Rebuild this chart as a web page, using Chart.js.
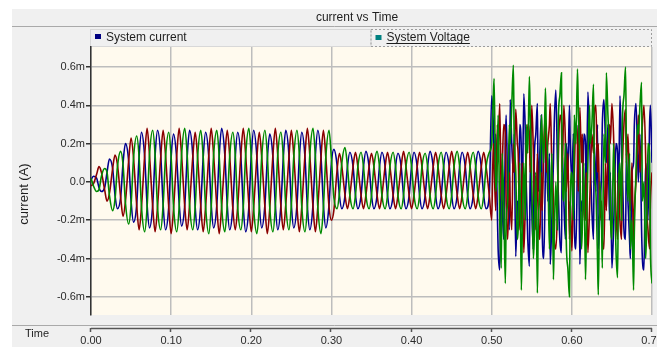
<!DOCTYPE html>
<html>
<head>
<meta charset="utf-8">
<script src="https://cdn.jsdelivr.net/npm/chart.js@4.4.1/dist/chart.umd.min.js"></script>
<style>
  html, body { margin: 0; padding: 0; background: #fff; }
  canvas { display: block; }
</style>
</head>
<body>
<canvas id="myChart" width="657" height="347"></canvas>
<script>
// time axis (s), one row = one 20 ms cycle (denser samples after the 0.50 s event)
const times = [
  0,0.003,0.007,0.01,0.013,0.017,
  0.02,0.023,0.027,0.03,0.033,0.037,
  0.04,0.043,0.047,0.05,0.053,0.057,
  0.06,0.063,0.067,0.07,0.073,0.077,
  0.08,0.083,0.087,0.09,0.093,0.097,
  0.1,0.103,0.107,0.11,0.113,0.117,
  0.12,0.123,0.127,0.13,0.133,0.137,
  0.14,0.143,0.147,0.15,0.153,0.157,
  0.16,0.163,0.167,0.17,0.173,0.177,
  0.18,0.183,0.187,0.19,0.193,0.197,
  0.2,0.203,0.207,0.21,0.213,0.217,
  0.22,0.223,0.227,0.23,0.233,0.237,
  0.24,0.243,0.247,0.25,0.253,0.257,
  0.26,0.263,0.267,0.27,0.273,0.277,
  0.28,0.283,0.287,0.29,0.293,0.297,
  0.3,0.303,0.307,0.31,0.313,0.317,
  0.32,0.323,0.327,0.33,0.333,0.337,
  0.34,0.343,0.347,0.35,0.353,0.357,
  0.36,0.363,0.367,0.37,0.373,0.377,
  0.38,0.383,0.387,0.39,0.393,0.397,
  0.4,0.403,0.407,0.41,0.413,0.417,
  0.42,0.423,0.427,0.43,0.433,0.437,
  0.44,0.443,0.447,0.45,0.453,0.457,
  0.46,0.463,0.467,0.47,0.473,0.477,
  0.48,0.483,0.487,0.49,0.493,0.497,
  0.5,0.502,0.503,0.505,0.507,0.508,0.51,0.512,0.513,0.515,0.517,0.518,
  0.52,0.522,0.523,0.525,0.527,0.528,0.53,0.532,0.533,0.535,0.537,0.538,
  0.54,0.542,0.543,0.545,0.547,0.548,0.55,0.552,0.553,0.555,0.557,0.558,
  0.56,0.562,0.563,0.565,0.567,0.568,0.57,0.572,0.573,0.575,0.577,0.578,
  0.58,0.582,0.583,0.585,0.587,0.588,0.59,0.592,0.593,0.595,0.597,0.598,
  0.6,0.602,0.603,0.605,0.607,0.608,0.61,0.612,0.613,0.615,0.617,0.618,
  0.62,0.622,0.623,0.625,0.627,0.628,0.63,0.632,0.633,0.635,0.637,0.638,
  0.64,0.642,0.643,0.645,0.647,0.648,0.65,0.652,0.653,0.655,0.657,0.658,
  0.66,0.662,0.663,0.665,0.667,0.668,0.67,0.672,0.673,0.675,0.677,0.678,
  0.68,0.682,0.683,0.685,0.687,0.688,0.69,0.692,0.693,0.695,0.697,0.698,
  0.7
];

// current in mA, phase drawn in navy
const phaseBlue = [
  0.01,0.03,0.02,-0.03,-0.05,-0.03,
  0.05,0.12,0.07,-0.07,-0.14,-0.08,
  0.10,0.20,0.11,-0.10,-0.21,-0.12,
  0.13,0.26,0.13,-0.12,-0.24,-0.12,
  0.14,0.27,0.14,-0.12,-0.25,-0.13,
  0.13,0.25,0.12,-0.11,-0.23,-0.12,
  0.13,0.27,0.14,-0.13,-0.25,-0.12,
  0.13,0.26,0.13,-0.12,-0.24,-0.12,
  0.14,0.28,0.14,-0.12,-0.25,-0.13,
  0.13,0.26,0.13,-0.13,-0.26,-0.13,
  0.14,0.27,0.13,-0.12,-0.24,-0.12,
  0.12,0.25,0.13,-0.12,-0.25,-0.12,
  0.13,0.27,0.14,-0.12,-0.24,-0.12,
  0.13,0.26,0.13,-0.13,-0.25,-0.12,
  0.14,0.27,0.13,-0.12,-0.24,-0.12,
  0.10,0.17,0.09,-0.07,-0.14,-0.07,
  0.08,0.155,0.08,-0.07,-0.14,-0.07,
  0.08,0.16,0.08,-0.07,-0.14,-0.07,
  0.08,0.155,0.08,-0.07,-0.14,-0.07,
  0.08,0.15,0.08,-0.07,-0.14,-0.07,
  0.08,0.155,0.08,-0.07,-0.14,-0.07,
  0.08,0.16,0.08,-0.07,-0.14,-0.07,
  0.08,0.155,0.08,-0.07,-0.14,-0.07,
  0.08,0.155,0.08,-0.07,-0.14,-0.07,
  0.08,0.16,0.08,-0.07,-0.14,-0.07,
  0.45,0.30,0.10,0.25,-0.15,-0.35,-0.46,0.05,-0.10,-0.30,0.20,0.35,
  -0.05,-0.25,0.43,0.20,0.05,0.25,-0.39,-0.10,-0.20,0.30,0.15,-0.20,
  0.46,0.25,0.00,-0.30,-0.44,0.10,-0.15,-0.35,0.10,0.25,0.41,-0.05,
  0.15,0.35,-0.25,-0.40,0.05,0.25,-0.10,0.15,-0.43,-0.20,0.10,0.30,
  0.48,0.10,-0.05,-0.30,-0.37,0.15,-0.10,-0.30,0.20,0.05,0.40,0.20,
  0.00,0.25,-0.20,-0.35,0.10,0.30,-0.43,-0.10,-0.15,0.25,0.20,-0.15,
  0.47,0.25,0.10,-0.15,-0.30,0.20,-0.05,0.30,-0.35,-0.15,0.05,0.30,
  0.43,0.20,0.10,0.30,-0.20,0.05,-0.45,-0.25,-0.10,0.20,0.15,-0.20,
  0.45,0.15,0.05,-0.25,-0.30,0.15,-0.10,-0.30,-0.40,0.05,0.10,0.30,
  0.41,0.15,0.00,0.25,-0.25,-0.40,-0.46,0.10,0.05,-0.20,0.30,0.40,
  0.10
];

// phase drawn in dark red
const phaseRed = [
  -0.02,-0.01,0.04,0.08,0.05,-0.04,
  -0.10,-0.06,0.07,0.14,0.09,-0.08,
  -0.18,-0.10,0.11,0.23,0.13,-0.12,
  -0.25,-0.13,0.14,0.28,0.14,-0.13,
  -0.26,-0.13,0.13,0.27,0.14,-0.13,
  -0.27,-0.14,0.14,0.28,0.14,-0.13,
  -0.25,-0.12,0.13,0.26,0.13,-0.13,
  -0.26,-0.13,0.14,0.28,0.14,-0.13,
  -0.27,-0.13,0.13,0.27,0.14,-0.14,
  -0.25,-0.13,0.14,0.28,0.14,-0.12,
  -0.26,-0.13,0.13,0.26,0.13,-0.13,
  -0.27,-0.14,0.14,0.28,0.14,-0.13,
  -0.25,-0.12,0.13,0.27,0.14,-0.13,
  -0.26,-0.13,0.14,0.28,0.14,-0.13,
  -0.26,-0.13,0.13,0.27,0.13,-0.13,
  -0.20,-0.15,0.06,0.15,0.08,-0.07,
  -0.14,-0.07,0.08,0.155,0.08,-0.07,
  -0.14,-0.07,0.08,0.15,0.08,-0.07,
  -0.14,-0.07,0.08,0.155,0.08,-0.07,
  -0.14,-0.07,0.08,0.16,0.08,-0.07,
  -0.14,-0.07,0.08,0.155,0.08,-0.07,
  -0.14,-0.07,0.08,0.155,0.08,-0.07,
  -0.14,-0.07,0.08,0.16,0.08,-0.07,
  -0.14,-0.07,0.08,0.155,0.08,-0.07,
  -0.14,-0.07,0.08,0.155,0.08,-0.07,
  -0.20,0.20,0.10,-0.15,0.30,0.15,0.41,-0.10,0.05,0.30,0.25,-0.10,
  -0.30,0.05,-0.10,-0.25,0.20,0.05,0.38,0.20,0.15,-0.25,-0.20,0.10,
  -0.37,-0.10,0.10,0.30,0.25,0.05,0.40,0.15,-0.05,-0.25,0.15,-0.15,
  -0.30,0.05,-0.15,0.20,0.35,0.05,0.20,0.30,0.41,0.10,-0.10,-0.30,
  -0.35,-0.15,0.10,0.35,0.30,0.05,0.40,0.20,-0.05,0.15,-0.30,-0.10,
  -0.36,-0.05,0.05,0.30,0.20,-0.05,0.39,0.10,0.25,-0.15,-0.20,0.05,
  -0.37,-0.15,0.00,0.25,0.15,0.35,0.40,0.05,0.20,-0.20,-0.10,-0.30,
  -0.35,0.10,-0.15,0.15,0.30,0.20,0.41,0.25,0.10,-0.15,-0.30,0.05,
  -0.20,-0.30,0.05,0.30,0.38,0.10,0.25,-0.05,-0.15,0.10,-0.37,-0.15,
  0.00,0.20,0.35,0.05,0.20,0.30,0.40,0.15,-0.10,-0.25,-0.35,-0.10,
  0.05
];

// phase drawn in green
const phaseGreen = [
  0.02,-0.02,-0.05,-0.04,0.03,0.07,
  0.05,-0.07,-0.15,-0.09,0.08,0.16,
  0.09,-0.11,-0.22,-0.12,0.12,0.24,
  0.13,-0.13,-0.26,-0.13,0.14,0.27,
  0.14,-0.13,-0.25,-0.12,0.13,0.26,
  0.13,-0.13,-0.26,-0.13,0.14,0.28,
  0.14,-0.12,-0.25,-0.13,0.13,0.27,
  0.13,-0.13,-0.27,-0.13,0.14,0.27,
  0.13,-0.13,-0.26,-0.12,0.13,0.26,
  0.14,-0.13,-0.25,-0.13,0.14,0.28,
  0.13,-0.14,-0.27,-0.13,0.13,0.27,
  0.14,-0.13,-0.26,-0.13,0.14,0.26,
  0.13,-0.12,-0.25,-0.12,0.13,0.27,
  0.14,-0.13,-0.26,-0.13,0.14,0.28,
  0.13,-0.13,-0.27,-0.13,0.13,0.27,
  0.12,-0.08,-0.14,-0.06,0.10,0.18,
  0.08,-0.07,-0.14,-0.07,0.08,0.155,
  0.08,-0.07,-0.14,-0.07,0.08,0.16,
  0.08,-0.07,-0.14,-0.07,0.08,0.155,
  0.08,-0.07,-0.14,-0.07,0.08,0.155,
  0.08,-0.07,-0.14,-0.07,0.08,0.15,
  0.08,-0.07,-0.14,-0.07,0.08,0.155,
  0.08,-0.07,-0.14,-0.07,0.08,0.16,
  0.08,-0.07,-0.14,-0.07,0.08,0.155,
  0.08,-0.07,-0.14,-0.07,0.08,0.155,
  0.20,0.45,0.54,-0.05,0.10,0.35,-0.20,-0.45,0.15,-0.10,-0.53,-0.20,
  -0.10,0.30,0.20,0.40,0.61,0.25,0.05,-0.30,-0.25,0.10,-0.565,-0.30,
  0.10,-0.20,0.30,0.15,0.55,0.35,0.00,-0.40,-0.30,0.05,-0.58,-0.25,
  -0.05,0.35,0.25,0.10,0.49,0.30,0.10,-0.35,-0.20,0.15,-0.51,-0.30,
  0.00,-0.25,0.30,0.45,0.57,0.05,-0.10,0.20,-0.30,-0.45,-0.60,-0.10,
  0.05,-0.20,0.35,0.20,0.59,0.40,0.10,-0.35,-0.25,0.10,-0.51,-0.30,
  0.10,0.40,0.20,0.30,0.51,0.10,-0.05,-0.40,-0.59,0.00,-0.20,-0.45,
  0.25,0.10,0.57,0.35,0.15,-0.15,-0.30,0.20,0.05,-0.35,-0.50,-0.10,
  0.10,-0.20,0.30,0.45,0.60,0.20,-0.10,0.15,-0.35,-0.20,-0.565,-0.25,
  0.05,0.30,0.25,0.40,0.52,-0.10,0.00,-0.40,-0.30,0.20,0.15,-0.35,
  -0.53
];

const yTicks = [-0.6, -0.4, -0.2, 0, 0.2, 0.4, 0.6];
const yTickLabels = ['-0.6m', '-0.4m', '-0.2m', '0.0', '0.2m', '0.4m', '0.6m'];
const xTicks = [0, 0.1, 0.2, 0.3, 0.4, 0.5, 0.6, 0.7];
const xTickLabels = ['0.00', '0.10', '0.20', '0.30', '0.40', '0.50', '0.60', '0.70'];

const legendLabels = ['System current', 'System Voltage'];
const legendColors = ['#000080', '#008080'];

const FONT = '"Liberation Sans", Arial, sans-serif';
const TEXT = '#1e1e1e';

// panel, title bar, legend cells, plot background
const framePlugin = {
    id: 'frame',
    beforeDraw(chart) {
        const ctx = chart.ctx;
        const area = chart.chartArea;
        const w = chart.width, h = chart.height;
        const mid = area.left + (area.right - area.left) / 2;
        ctx.save();
        ctx.fillStyle = '#ffffff';
        ctx.fillRect(0, 0, w, h);
        ctx.fillStyle = '#f0f0f0';
        ctx.fillRect(12, 9, w - 12, h - 9);

        ctx.strokeStyle = '#a9a9a9';
        ctx.lineWidth = 1;
        ctx.beginPath();
        ctx.moveTo(12, 26.5); ctx.lineTo(w, 26.5);
        ctx.moveTo(12, 325.5); ctx.lineTo(w, 325.5);
        ctx.stroke();

        ctx.strokeStyle = '#d8d8d8';
        ctx.strokeRect(area.left - 0.5, 29.5, mid - area.left, 17);
        ctx.setLineDash([2, 2]);
        ctx.strokeStyle = '#9c9c9c';
        ctx.strokeRect(mid - 0.5, 29.5, area.right - mid, 17);
        ctx.setLineDash([]);

        ctx.fillStyle = '#fffaee';
        ctx.fillRect(area.left, area.top, area.right - area.left, area.bottom - area.top);
        ctx.restore();
    },
    afterDraw(chart) {
        const ctx = chart.ctx;
        const area = chart.chartArea;
        const xs = chart.scales.x;
        const mid = area.left + (area.right - area.left) / 2;
        ctx.save();

        // detached time ruler
        ctx.strokeStyle = '#555';
        ctx.lineWidth = 1.5;
        ctx.beginPath();
        ctx.moveTo(area.left, 328.5);
        ctx.lineTo(area.right, 328.5);
        xTicks.forEach(v => {
            const px = Math.round(xs.getPixelForValue(v)) - 0.5;
            ctx.moveTo(px, 328);
            ctx.lineTo(px, 332);
        });
        ctx.stroke();

        ctx.fillStyle = TEXT;
        ctx.textBaseline = 'middle';
        ctx.font = '12px ' + FONT;
        ctx.textAlign = 'center';
        ctx.fillText('current vs Time', 357, 18);

        // legend entries
        ctx.textAlign = 'left';
        const starts = [area.left + 3, mid + 3];
        legendLabels.forEach((label, i) => {
            ctx.fillStyle = legendColors[i];
            ctx.fillRect(starts[i] + 1, 34 + i, 6, 5);
            ctx.fillStyle = TEXT;
            ctx.fillText(label, starts[i] + 12, 38);
            if (i === 1) {
                const tw = ctx.measureText(label).width;
                ctx.fillRect(starts[i] + 12, 43, tw, 1);
            }
        });

        ctx.font = '11px ' + FONT;
        ctx.fillText('Time', 25, 334);

        ctx.font = '13px ' + FONT;
        ctx.translate(24.5, 194);
        ctx.rotate(-Math.PI / 2);
        ctx.textAlign = 'center';
        ctx.fillText('current (A)', 0, 0);
        ctx.restore();
    }
};

function makeDataset(label, values, color, order) {
    return {
        label: label,
        data: values,
        borderColor: color,
        backgroundColor: color,
        borderWidth: 1.6,
        pointRadius: 0,
        fill: false,
        cubicInterpolationMode: 'monotone',
        order: order
    };
}

function initializeChart() {
    const ctx = document.getElementById('myChart').getContext('2d');
    new Chart(ctx, {
        type: 'line',
        data: {
            labels: times,
            datasets: [
                makeDataset('System current', phaseBlue, '#000090', 2),
                makeDataset('System current', phaseRed, '#8b0000', 1),
                makeDataset('System current', phaseGreen, '#008a00', 0)
            ]
        },
        options: {
            responsive: false,
            animation: false,
            events: [],
            layout: { padding: { top: 47, right: 5, left: 0, bottom: 0 }, autoPadding: false },
            plugins: {
                legend: { display: false },
                title: { display: false },
                tooltip: { enabled: false }
            },
            scales: {
                x: {
                    type: 'linear',
                    min: 0,
                    max: 0.7,
                    afterBuildTicks: scale => { scale.ticks = xTicks.map(v => ({ value: v })); },
                    afterFit: scale => {
                        scale.height = 32;
                        scale.paddingLeft = 0;
                        scale.paddingRight = 0;
                    },
                    border: { display: false },
                    grid: { color: '#bdbdbd', lineWidth: 1.5, drawTicks: false },
                    ticks: {
                        maxRotation: 0,
                        autoSkip: false,
                        padding: 19,
                        color: '#2a2a2a',
                        font: { family: FONT, size: 11 },
                        callback: (value, index) => xTickLabels[index]
                    }
                },
                y: {
                    type: 'linear',
                    min: -0.695,
                    max: 0.705,
                    afterBuildTicks: scale => { scale.ticks = yTicks.map(v => ({ value: v })); },
                    afterFit: scale => {
                        scale.width = 91;
                        scale.paddingTop = 0;
                        scale.paddingBottom = 0;
                    },
                    border: { display: true, color: '#333', width: 1.5 },
                    grid: { color: '#bdbdbd', lineWidth: 1.5, tickColor: '#333', tickLength: 5 },
                    ticks: {
                        padding: 1,
                        autoSkip: false,
                        color: '#2a2a2a',
                        font: { family: FONT, size: 11 },
                        callback: (value, index) => yTickLabels[index]
                    }
                }
            }
        },
        plugins: [framePlugin]
    });
}

initializeChart();
</script>
</body>
</html>
